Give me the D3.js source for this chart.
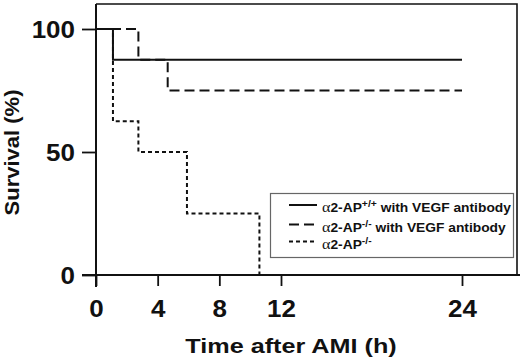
<!DOCTYPE html>
<html>
<head>
<meta charset="utf-8">
<title>Survival after AMI</title>
<script src="https://d3js.org/d3.v7.min.js"></script>
<style>
  body { margin: 0; background: #fff; }
  svg { display: block; }
  text { font-family: "Liberation Sans", Arial, Helvetica, sans-serif; font-weight: bold; fill: #111; }
</style>
</head>
<body>
<script>

// Kaplan-Meier steps: [hours, survival %]
var wildVegf = [[0, 100], [1.1, 87.5], [24, 87.5]];
var koVegf   = [[0, 100], [2.75, 87.5], [4.65, 75], [24, 75]];
var koOnly   = [[0, 100], [1.1, 62.5], [2.75, 50], [5.9, 25], [10.6, 0], [24, 0]];

var xTicks = [0, 4, 8, 12, 24];
var yTicks = [0, 50, 100];
var legendSup = ["+/+", "-/-", "-/-"];
var legendRest = [" with VEGF antibody", " with VEGF antibody", ""];
var dashes = [null, "10,5", "4,3"];

var width = 520, height = 363;

var svg = d3.select("body").append("svg")
    .attr("width", width)
    .attr("height", height);

// x scale is slightly uneven on the original, so use a piecewise domain
var x = d3.scaleLinear()
    .domain([0, 12, 24, 27.6])
    .range([96, 281, 462, 517]);

var y = d3.scaleLinear()
    .domain([0, 100])
    .range([275, 29]);

// frame (top and right)
svg.append("path")
    .attr("d", "M" + x(0) + "," + 4 + "H" + x(27.6) + "V" + y(0))
    .attr("fill", "none")
    .attr("stroke", "#111")
    .attr("stroke-width", 1.6);

// y axis
var yAxis = svg.append("g")
    .attr("transform", "translate(" + x(0) + ",0)")
    .call(d3.axisLeft(y).tickValues(yTicks).tickSize(14).tickPadding(7));
yAxis.select(".domain").remove();
yAxis.selectAll(".tick line").attr("stroke", "#111").attr("stroke-width", 1.8);
yAxis.selectAll(".tick text")
    .attr("font-size", 23)
    .attr("fill", "#111")
    .attr("dy", "0.36em")
    .attr("x", 0)
    .attr("transform", "translate(-21,0) scale(1.13,1)");

svg.append("line")
    .attr("x1", x(0)).attr("x2", x(0))
    .attr("y1", 4).attr("y2", 287)
    .attr("stroke", "#111").attr("stroke-width", 2);

// x axis
var xAxis = svg.append("g")
    .attr("transform", "translate(0," + y(0) + ")")
    .call(d3.axisBottom(x).tickValues(xTicks).tickSize(11).tickPadding(12));
xAxis.select(".domain").remove();
xAxis.selectAll(".tick line").attr("stroke", "#111").attr("stroke-width", 1.8);
xAxis.selectAll(".tick text")
    .attr("font-size", 23)
    .attr("fill", "#111")
    .attr("y", 0)
    .attr("dy", 0)
    .attr("transform", "translate(0,42) scale(1.13,1)");

svg.append("line")
    .attr("x1", 82).attr("x2", width)
    .attr("y1", y(0)).attr("y2", y(0))
    .attr("stroke", "#111").attr("stroke-width", 2);

// axis titles
svg.append("text")
    .attr("transform", "translate(291,352.5) scale(1.2,1)")
    .attr("text-anchor", "middle")
    .attr("font-size", 21)
    .text("Time after AMI (h)");

svg.append("text")
    .attr("transform", "translate(19,152.5) rotate(-90) scale(1.1,1)")
    .attr("text-anchor", "middle")
    .attr("font-size", 20)
    .text("Survival (%)");

// survival curves
var line = d3.line()
    .x(function(d) { return x(d[0]); })
    .y(function(d) { return y(d[1]); })
    .curve(d3.curveStepAfter);

var series = [wildVegf, koVegf, koOnly];
svg.selectAll(".curve")
    .data(series)
    .enter().append("path")
    .attr("class", "curve")
    .attr("d", line)
    .attr("fill", "none")
    .attr("stroke", "#111")
    .attr("stroke-width", 2)
    .attr("stroke-dasharray", function(d, i) { return dashes[i]; });

// legend
var legend = svg.append("g");
legend.append("rect")
    .attr("x", 270.5).attr("y", 193.5)
    .attr("width", 243).attr("height", 64)
    .attr("fill", "#fff")
    .attr("stroke", "#666")
    .attr("stroke-width", 1.2);

var rowY = [205, 224.5, 241.5];
legendSup.forEach(function(sup, i) {
    legend.append("line")
        .attr("x1", 289).attr("x2", 317)
        .attr("y1", rowY[i]).attr("y2", rowY[i])
        .attr("stroke", "#111")
        .attr("stroke-width", 2)
        .attr("stroke-dasharray", dashes[i]);

    var t = legend.append("text")
        .attr("transform", "translate(322," + (rowY[i] + 7) + ") scale(1.15,1)")
        .attr("font-size", 12);
    t.append("tspan")
        .style("font-family", "'Liberation Serif', 'Times New Roman', serif")
        .attr("font-weight", "normal")
        .attr("font-size", 14)
        .text("\u03b1");
    t.append("tspan").text("2-AP");
    t.append("tspan")
        .attr("font-size", 9)
        .attr("dy", -5)
        .text(sup);
    t.append("tspan")
        .attr("dy", 5)
        .text(legendRest[i]);
});

</script>
</body>
</html>
